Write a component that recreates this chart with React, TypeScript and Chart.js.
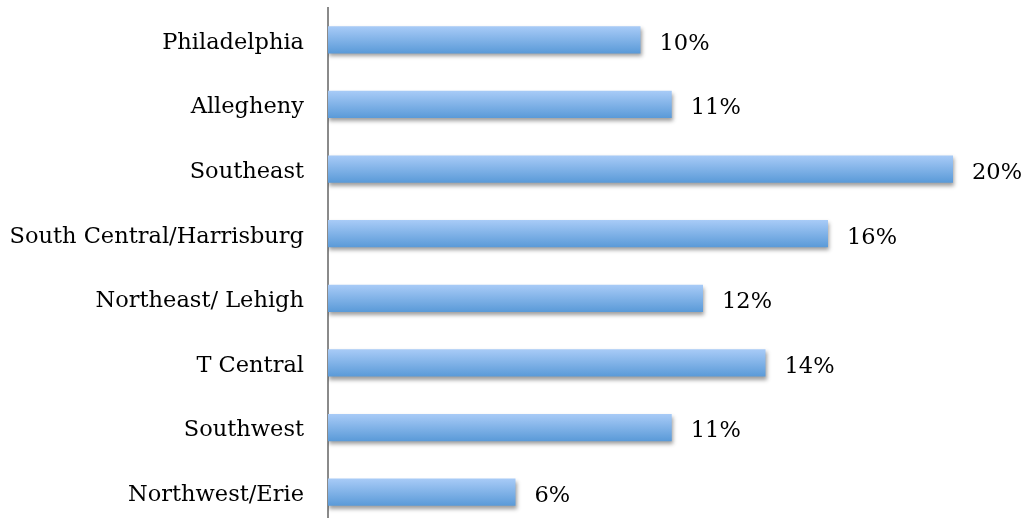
import React, { useEffect, useRef } from "react";
import { Chart, registerables } from "chart.js";

Chart.register(...registerables);

const categories = [
  "Philadelphia",
  "Allegheny",
  "Southeast",
  "South Central/Harrisburg",
  "Northeast/ Lehigh",
  "T Central",
  "Southwest",
  "Northwest/Erie",
];
const values = [10, 11, 20, 16, 12, 14, 11, 6];
const valueLabels = ["10%", "11%", "20%", "16%", "12%", "14%", "11%", "6%"];

const FONT = "'DejaVu Serif', serif";

const barStyle = {
  id: "barStyle",
  beforeDatasetsDraw(chart: any) {
    const ctx = chart.ctx;
    chart.getDatasetMeta(0).data.forEach((el: any) => {
      const top = el.y - el.height / 2;
      const bottom = el.y + el.height / 2;
      const g = ctx.createLinearGradient(0, top, 0, bottom);
      g.addColorStop(0, "#a8cbf7");
      g.addColorStop(1, "#5a9ad8");
      el.options.backgroundColor = g;
    });
    ctx.save();
    ctx.shadowColor = "rgba(0,0,0,0.38)";
    ctx.shadowBlur = 4;
    ctx.shadowOffsetX = 1;
    ctx.shadowOffsetY = 3;
  },
  afterDatasetsDraw(chart: any) {
    const ctx = chart.ctx;
    ctx.restore();
    ctx.save();
    ctx.font = `22.5px ${FONT}`;
    ctx.fillStyle = "#000";
    ctx.textAlign = "left";
    ctx.textBaseline = "middle";
    chart.getDatasetMeta(0).data.forEach((el: any, i: number) => {
      ctx.fillText(valueLabels[i], el.x + 19, el.y + 4);
    });
    ctx.restore();
  },
};

export default function App() {
  const ref = useRef<HTMLCanvasElement>(null);
  useEffect(() => {
    const chart = new Chart(ref.current!, {
      type: "bar",
      data: {
        labels: categories,
        datasets: [
          {
            data: values,
            backgroundColor: () => "#7fb2ea",
            barPercentage: 0.42,
            categoryPercentage: 1,
          },
        ],
      },
      options: {
        indexAxis: "y",
        animation: false,
        responsive: false,
        maintainAspectRatio: false,
        layout: { padding: { top: 7.5, bottom: 7.5, right: 11.5, left: 0 } },
        plugins: { legend: { display: false }, tooltip: { enabled: false } },
        scales: {
          x: { display: false, min: 0, max: 22 },
          y: {
            afterFit(scale: any) {
              scale.width = 328;
              scale.paddingTop = 0;
              scale.paddingBottom = 0;
            },
            grid: { display: true, drawOnChartArea: false, drawTicks: false },
            border: { display: true, color: "#8a8a8a", width: 2 },
            ticks: {
              padding: 24,
              labelOffset: 3,
              color: "#000",
              font: { family: FONT, size: 22.5 },
            },
          },
        },
      },
      plugins: [barStyle],
    });
    return () => chart.destroy();
  }, []);
  return (
    <div style={{ position: "absolute", left: 0, top: 0, width: 1027, height: 518, overflow: "hidden", background: "#fff" }}>
      <canvas ref={ref} width={1027} height={532} style={{ display: "block", width: 1027, height: 532 }} />
    </div>
  );
}
